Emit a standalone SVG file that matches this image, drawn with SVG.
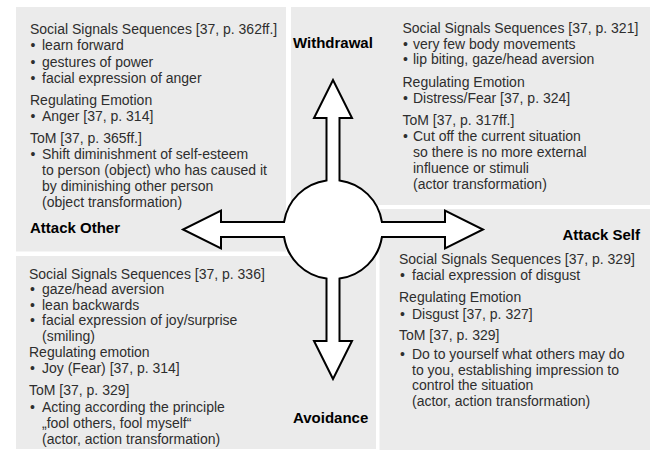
<svg xmlns="http://www.w3.org/2000/svg" width="650" height="450" viewBox="0 0 650 450">
<style>
.panel{fill:#ebebeb;stroke:none}
.t{font-family:"Liberation Sans",Arial,Helvetica,sans-serif;font-size:14px;fill:#2e2e2e}
.lbl{font-family:"Liberation Sans",Arial,Helvetica,sans-serif;font-size:15px;font-weight:bold;fill:#000}
.arrow{fill:#fff;stroke:#000;stroke-width:2;stroke-linejoin:miter}
</style>
<rect width="650" height="450" fill="#fff"/>
<g id="panel-attack-other">
<rect class="panel" x="16" y="7" width="270" height="244.5"/>
<text class="t" x="30" y="34">Social Signals Sequences [37, p. 362ff.]</text>
<text class="t" y="50"><tspan x="30.5">•</tspan><tspan x="42">learn forward</tspan></text>
<text class="t" y="66.5"><tspan x="30.5">•</tspan><tspan x="42">gestures of power</tspan></text>
<text class="t" y="82.7"><tspan x="30.5">•</tspan><tspan x="42">facial expression of anger</tspan></text>
<text class="t" x="30" y="105">Regulating Emotion</text>
<text class="t" y="121"><tspan x="30.5">•</tspan><tspan x="42">Anger [37, p. 314]</tspan></text>
<text class="t" x="30" y="143.3">ToM [37, p. 365ff.]</text>
<text class="t" y="159.3"><tspan x="30.5">•</tspan><tspan x="42">Shift diminishment of self-esteem</tspan></text>
<text class="t" x="42" y="175.3">to person (object) who has caused it</text>
<text class="t" x="42" y="191.3">by diminishing other person</text>
<text class="t" x="42" y="207.3">(object transformation)</text>
<text class="lbl" x="30" y="233">Attack Other</text>
</g>
<g id="panel-withdrawal">
<rect class="panel" x="291" y="7" width="359" height="198"/>
<text class="lbl" x="293" y="48">Withdrawal</text>
<text class="t" x="402.5" y="33">Social Signals Sequences [37, p. 321]</text>
<text class="t" y="48.7"><tspan x="403">•</tspan><tspan x="413">very few body movements</tspan></text>
<text class="t" y="64.4"><tspan x="403">•</tspan><tspan x="413">lip biting, gaze/head aversion</tspan></text>
<text class="t" x="402.5" y="87">Regulating Emotion</text>
<text class="t" y="103"><tspan x="403">•</tspan><tspan x="413">Distress/Fear [37, p. 324]</tspan></text>
<text class="t" x="402.5" y="124.6">ToM [37, p. 317ff.]</text>
<text class="t" y="141"><tspan x="403">•</tspan><tspan x="413">Cut off the current situation</tspan></text>
<text class="t" x="413" y="157">so there is no more external</text>
<text class="t" x="413" y="173">influence or stimuli</text>
<text class="t" x="413" y="188.8">(actor transformation)</text>
</g>
<g id="panel-avoidance">
<rect class="panel" x="16" y="256" width="360" height="193"/>
<text class="t" x="29" y="278.5">Social Signals Sequences [37, p. 336]</text>
<text class="t" y="293.7"><tspan x="30">•</tspan><tspan x="42">gaze/head aversion</tspan></text>
<text class="t" y="309.5"><tspan x="30">•</tspan><tspan x="42">lean backwards</tspan></text>
<text class="t" y="325.3"><tspan x="30">•</tspan><tspan x="42">facial expression of joy/surprise</tspan></text>
<text class="t" x="42" y="341">(smiling)</text>
<text class="t" x="29" y="357">Regulating emotion</text>
<text class="t" y="373"><tspan x="30">•</tspan><tspan x="42">Joy (Fear) [37, p. 314]</tspan></text>
<text class="t" x="29" y="395">ToM [37, p. 329]</text>
<text class="t" y="411.7"><tspan x="30">•</tspan><tspan x="42">Acting according the principle</tspan></text>
<text class="t" x="42" y="427.5">„fool others, fool myself“</text>
<text class="t" x="42" y="443.5">(actor, action transformation)</text>
<text class="lbl" x="293" y="423">Avoidance</text>
</g>
<g id="panel-attack-self">
<rect class="panel" x="379.5" y="209" width="270.5" height="241"/>
<text class="lbl" x="640" y="239.5" text-anchor="end">Attack Self</text>
<text class="t" x="399" y="263.5">Social Signals Sequences [37, p. 329]</text>
<text class="t" y="280"><tspan x="400">•</tspan><tspan x="412">facial expression of disgust</tspan></text>
<text class="t" x="399" y="302">Regulating Emotion</text>
<text class="t" y="318.5"><tspan x="400">•</tspan><tspan x="412">Disgust [37, p. 327]</tspan></text>
<text class="t" x="399" y="340">ToM [37, p. 329]</text>
<text class="t" y="358.5"><tspan x="400">•</tspan><tspan x="412">Do to yourself what others may do</tspan></text>
<text class="t" x="412" y="374.5">to you, establishing impression to</text>
<text class="t" x="412" y="390">control the situation</text>
<text class="t" x="412" y="406">(actor, action transformation)</text>
</g>
<g id="connectors">
<path class="arrow" d="M326.5,180.43 L326.5,118 L314,118 L333,80 L352,118 L339.5,118 L339.5,180.43 A49.5,49.5 0 0 1 381.93,222 L445,222 L445,210.5 L483,229.5 L445,248.5 L445,237 L381.93,237 A49.5,49.5 0 0 1 339.5,278.57 L339.5,341 L352,341 L333,379 L314,341 L326.5,341 L326.5,278.57 A49.5,49.5 0 0 1 284.07,237 L221,237 L221,248.5 L183,229.5 L221,210.5 L221,222 L284.07,222 A49.5,49.5 0 0 1 326.5,180.43 Z"/>
</g>
</svg>
